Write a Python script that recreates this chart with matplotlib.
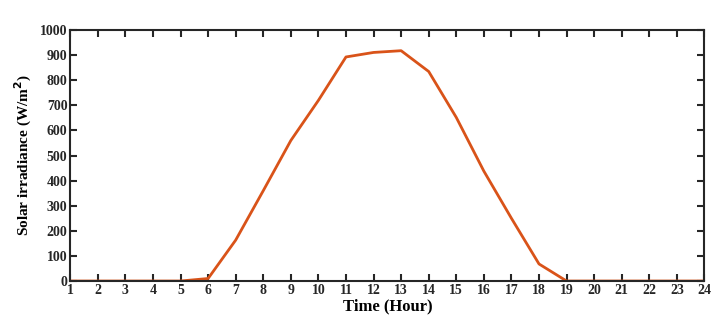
import matplotlib.pyplot as plt

hours = list(range(1, 25))
irradiance = [0, 0, 0, 0, 0, 10, 163, 360, 560, 720, 893, 911, 918, 835,
              652, 438, 250, 68, 0, 0, 0, 0, 0, 0]
yticks = list(range(0, 1001, 100))

plt.rcParams['font.family'] = ['Liberation Serif', 'DejaVu Serif']
plt.rcParams['font.weight'] = 'bold'

fig, ax = plt.subplots(figsize=(7.24, 3.31), dpi=100)
fig.subplots_adjust(left=0.097, right=0.973, top=0.909, bottom=0.151)

ax.plot(hours, irradiance, color='#D95319', linewidth=2)

ax.set_xlim(1, 24)
ax.set_ylim(0, 1000)
ax.set_xticks(hours)
ax.set_yticks(yticks)
ax.tick_params(direction='in', top=True, right=True, length=5, width=1.5,
               labelsize=10, pad=2, colors='#262626')
for s in ax.spines.values():
    s.set_linewidth(1.5)
    s.set_color('#262626')
for lab in ax.get_xticklabels() + ax.get_yticklabels():
    lab.set_fontweight('bold')

ax.set_xlabel("Time (Hour)", fontsize=12, fontweight='bold', labelpad=1)
ax.set_ylabel("Solar irradiance (W/m$^\\mathbf{2}$)", fontsize=11, fontweight='bold', labelpad=4)

plt.savefig("out.png", dpi=100)
